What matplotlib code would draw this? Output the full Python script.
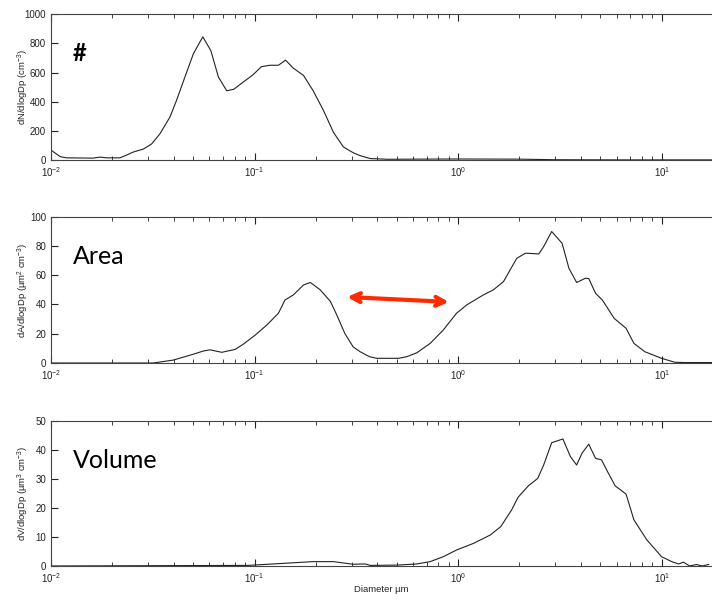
import numpy as np
import matplotlib
matplotlib.use("Agg")
import matplotlib.pyplot as plt
from matplotlib.ticker import LogLocator, NullFormatter

plt.rcParams['font.family'] = ['Liberation Sans', 'DejaVu Sans']
plt.rcParams['mathtext.fontset'] = 'custom'
plt.rcParams['mathtext.rm'] = 'Liberation Sans'

# number distribution
dp_n = [0.01, 0.0111, 0.0119, 0.0161, 0.0174, 0.0188, 0.0218, 0.0236, 0.0254, 0.0284,
        0.0312, 0.0343, 0.0384, 0.0414, 0.0455, 0.0501, 0.0557, 0.061, 0.0664, 0.073,
        0.079, 0.09, 0.0983, 0.108, 0.119, 0.131, 0.142, 0.155, 0.174, 0.194,
        0.218, 0.244, 0.273, 0.305, 0.33, 0.37, 0.45, 0.6, 1.0, 2.0, 3.0, 6.0, 10.0, 17.6]
dn = [68, 23, 15, 13, 20, 15, 15, 35, 55, 75,
      110, 180, 295, 410, 570, 730, 845, 750, 570, 475,
      485, 545, 585, 640, 650, 650, 685, 630, 580, 475,
      340, 190, 90, 50, 30, 10, 5, 6, 7, 6, 2, 1, 1, 1]

# area distribution
dp_a = [0.01, 0.0318, 0.0399, 0.05, 0.0561, 0.0604, 0.069, 0.0804, 0.0883, 0.1006,
        0.115, 0.131, 0.141, 0.155, 0.174, 0.188, 0.21, 0.236, 0.253, 0.278,
        0.305, 0.33, 0.367, 0.398, 0.509, 0.559, 0.627, 0.729, 0.845, 0.982,
        1.10, 1.33, 1.49, 1.67, 1.94, 2.14, 2.49, 2.63, 2.88, 3.24,
        3.50, 3.82, 4.22, 4.38, 4.73, 5.11, 5.84, 6.68, 7.30, 8.26,
        9.98, 11.6, 13.0, 17.6]
da = [0, 0, 2, 6, 8.2, 9, 7.3, 9.3, 13, 19,
      26, 34, 43, 46.5, 53.3, 55, 50, 42, 33, 20,
      11, 7.7, 4.3, 3.2, 3.2, 4.3, 7, 13.4, 22.5, 34,
      39.6, 46.5, 50, 55.6, 71.5, 75, 74.5, 79.5, 89.8, 81.8,
      64.7, 55, 57.9, 57.7, 47.6, 43, 30.5, 23.7, 13.4, 7.7,
      3.2, 0.5, 0.3, 0.3]

# volume distribution
dp_v = [0.01, 0.093, 0.194, 0.244, 0.305, 0.35, 0.37, 0.5, 0.627, 0.729,
        0.845, 0.982, 1.19, 1.44, 1.62, 1.83, 1.97, 2.21, 2.46, 2.63,
        2.88, 3.27, 3.56, 3.82, 4.06, 4.38, 4.73, 5.06, 5.42, 5.91,
        6.68, 7.30, 8.45, 9.98, 11.2, 12.1, 12.8, 13.7, 14.8, 15.8, 17.0]
dv = [0, 0.2, 1.5, 1.5, 0.6, 0.7, 0.2, 0.3, 0.7, 1.5,
      3.2, 5.5, 7.8, 10.7, 13.6, 19.3, 23.7, 27.6, 30.2, 34.8,
      42.5, 43.8, 37.7, 34.8, 38.9, 42, 37.1, 36.6, 32.5, 27.6,
      24.8, 15.9, 9.0, 3.2, 1.5, 0.7, 1.3, 0, 0.5, 0, 0.5]

panels = [
    (dp_n, dn, [0, 1000], np.arange(0, 1001, 200), 'dN/dlogDp (cm$^{-3}$)', '#'),
    (dp_a, da, [0, 100], np.arange(0, 101, 20), 'dA/dlogDp (µm$^2$ cm$^{-3}$)', 'Area'),
    (dp_v, dv, [0, 50], np.arange(0, 51, 10), 'dV/dlogDp (µm$^3$ cm$^{-3}$)', 'Volume'),
]
boxes = [[0.0716, 0.7333, 0.928, 0.243],
         [0.0716, 0.395, 0.928, 0.244],
         [0.0716, 0.0567, 0.928, 0.2417]]

fig = plt.figure(figsize=(7.12, 6.0), dpi=100)
axes = []
for (x, y, ylim, yt, ylab, name), box in zip(panels, boxes):
    ax = fig.add_axes(box)
    ax.plot(x, y, color='#222222', lw=0.8)
    ax.set_xscale('log')
    ax.set_xlim(0.01, 17.6)
    ax.set_ylim(ylim)
    ax.set_yticks(yt)
    ax.xaxis.set_minor_locator(LogLocator(base=10, subs=np.arange(2, 10)))
    ax.xaxis.set_minor_formatter(NullFormatter())
    ax.tick_params(which='both', direction='in', top=True, labelsize=7, colors='#222222')
    ax.tick_params(which='major', length=5)
    ax.tick_params(which='minor', length=3)
    ax.spines['right'].set_visible(False)
    for s in ['top', 'bottom', 'left']:
        ax.spines[s].set_color('#444444')
        ax.spines[s].set_linewidth(0.8)
    ax.set_ylabel(ylab, fontsize=6.8, color='#222222')
    ax.yaxis.set_label_coords(-0.03, 0.5)
    if name == '#':
        ax.text(0.033, 0.73, name, transform=ax.transAxes, fontsize=17,
                family='Lato', weight='bold', va='center', ha='left')
    else:
        ax.text(0.033, 0.73, name, transform=ax.transAxes, fontsize=18,
                family='Lato', va='center', ha='left')
    axes.append(ax)

axes[2].set_xlabel('Diameter µm', fontsize=6.8, color='#222222')
axes[2].xaxis.set_label_coords(0.5, -0.13)

axes[1].annotate('', xy=(0.9, 41.7), xytext=(0.285, 45.1),
                 arrowprops=dict(arrowstyle='<->', color='#ff2a00', lw=3,
                                 mutation_scale=16, shrinkA=0, shrinkB=0))

plt.savefig('out.png', dpi=100)
